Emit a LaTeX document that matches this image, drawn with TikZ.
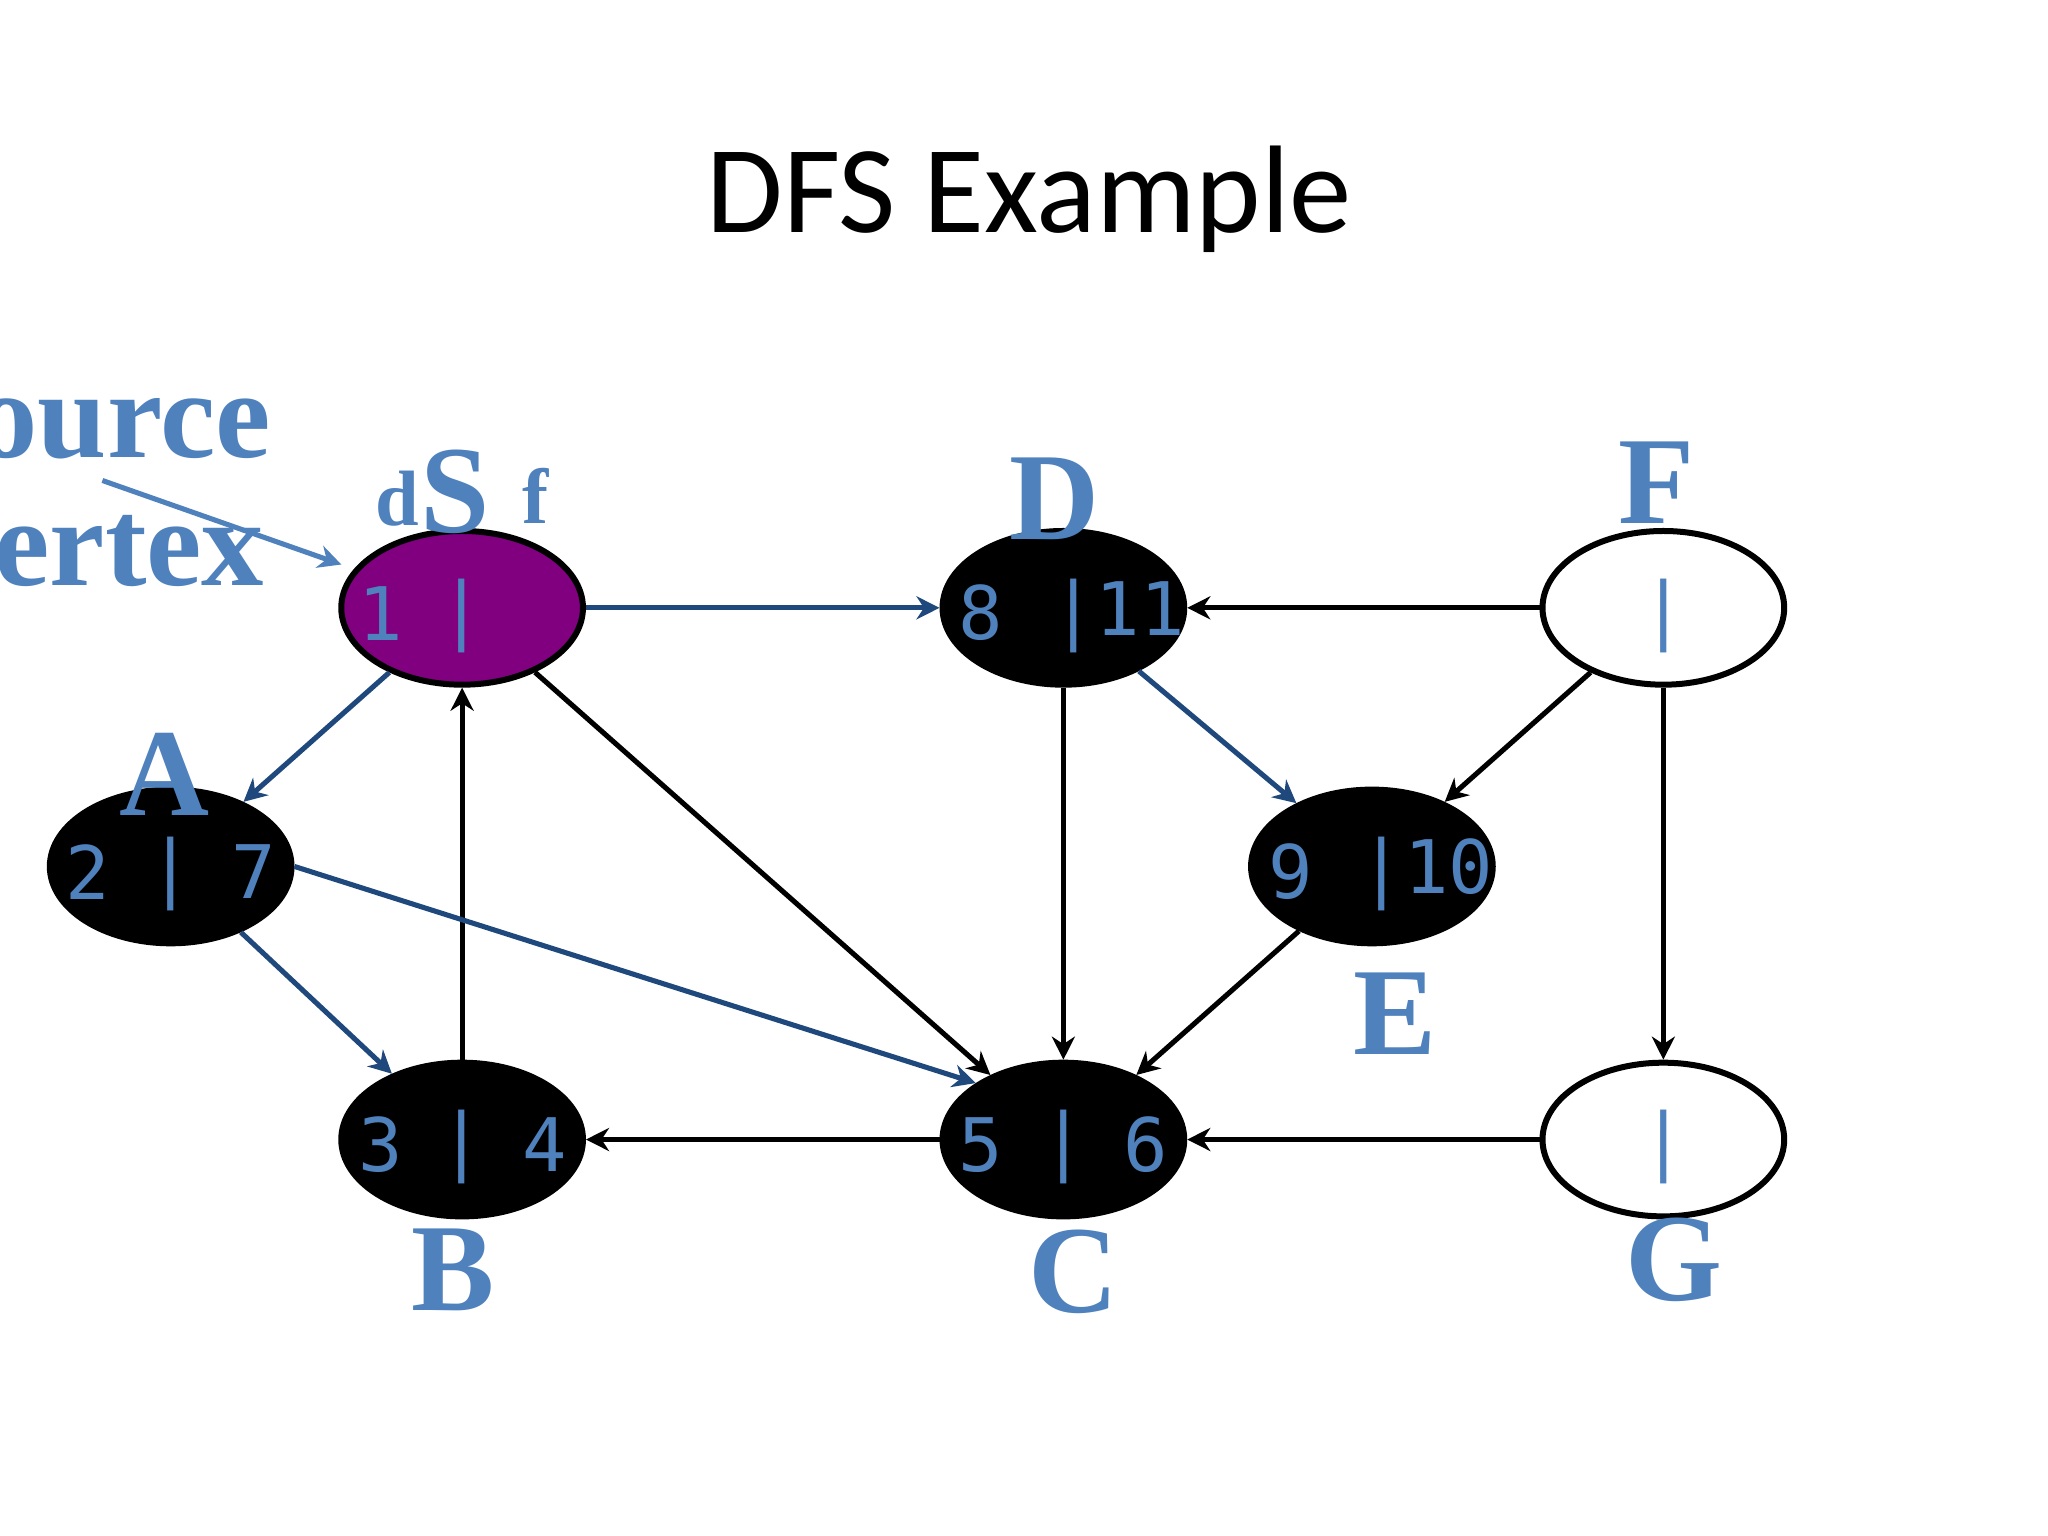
\documentclass[tikz,border=0pt]{standalone}
\usepackage{fontspec}
\setmainfont{Liberation Serif}
\newfontfamily\ttl{Carlito}
\newfontfamily\mono{DejaVu Sans Mono}
\usetikzlibrary{shapes.geometric,arrows.meta}
\definecolor{lblue}{RGB}{79,129,189}
\definecolor{dblue}{RGB}{31,73,125}
\definecolor{purp}{RGB}{128,0,128}
\begin{document}
\begin{tikzpicture}[x=0.01cm,y=-0.01cm,
  v/.style={ellipse,draw=black,line width=1.3pt,minimum width=1.84cm,minimum height=1.17cm,inner sep=0pt},
  num/.style={text=lblue,font=\mono\fontsize{16}{16}\selectfont,inner sep=0pt},
  blk/.style={v,fill=black},
  lab/.style={text=lblue,font=\bfseries\fontsize{27}{27}\selectfont,inner sep=0pt},
  e/.style={line width=1.1pt,-{Stealth[length=5pt,width=5pt]}},
  eb/.style={e,draw=dblue}]
\useasboundingbox (0,0) rectangle (1560,1170);
\node[font=\ttl\fontsize{27}{27}\selectfont] (t) at (784,152) {DFS Example};
\node[v,fill=purp] (S) at (352,463) {};
\node[blk] (D) at (810,463) {};
\node[v,fill=white] (F) at (1267,463) {};
\node[blk] (A) at (130,660) {};
\node[blk] (E) at (1045,660) {};
\node[blk] (B) at (352,868) {};
\node[blk] (C) at (810,868) {};
\node[v,fill=white] (G) at (1267,868) {};
% numbers
\node[num] (s1) at (290,467) {1};
\node[num] (s2) at (352,469) {|};
\node[num] (d1) at (747,467) {8};
\node[num,anchor=west] (d2) at (800,469) {|11};
\node[num] (f1) at (1267,469) {|};
\node[num] (a1) at (67,664) {2};
\node[num] (a2) at (130,666) {|};
\node[num] (a3) at (193,664) {7};
\node[num] (e1) at (983,664) {9};
\node[num,anchor=west] (e2) at (1035,666) {|10};
\node[num] (b1) at (290,872) {3};
\node[num] (b2) at (352,874) {|};
\node[num] (b3) at (415,872) {4};
\node[num] (c1) at (747,872) {5};
\node[num] (c2) at (810,874) {|};
\node[num] (c3) at (873,872) {6};
\node[num] (g1) at (1267,874) {|};
% labels
\node[lab] (lS) at (347,375) {S};
\node[lab,font=\bfseries\fontsize{17}{17}\selectfont] (ld) at (303,380) {d};
\node[lab,font=\bfseries\fontsize{17}{17}\selectfont] (lf) at (408,378) {f};
\node[lab] (lD) at (803,380) {D};
\node[lab] (lF) at (1262,368) {F};
\node[lab] (lA) at (125,590) {A};
\node[lab] (lE) at (1063,772) {E};
\node[lab] (lB) at (345,967) {B};
\node[lab] (lC) at (818,969) {C};
\node[lab] (lG) at (1275,960) {G};
\node[lab,anchor=east] (so) at (207,318) {Source};
\node[lab,anchor=east] (ve) at (202,420) {vertex};
\coordinate (p0) at (78,366);
\coordinate (p1) at (260,430);
\draw[e,draw=lblue] (p0) -- (p1);
\draw[eb] (S) -- (D);
\draw[eb] (S) -- (A);
\draw[e] (S) -- (C);
\draw[e] (B) -- (S);
\draw[eb] (A) -- (B);
\draw[eb] (A.east) -- (C.north west);
\draw[e] (D) -- (C);
\draw[eb] (D) -- (E);
\draw[e] (F) -- (D);
\draw[e] (F) -- (E);
\draw[e] (F) -- (G);
\draw[e] (E) -- (C);
\draw[e] (C) -- (B);
\draw[e] (G) -- (C);
\end{tikzpicture}
\end{document}
